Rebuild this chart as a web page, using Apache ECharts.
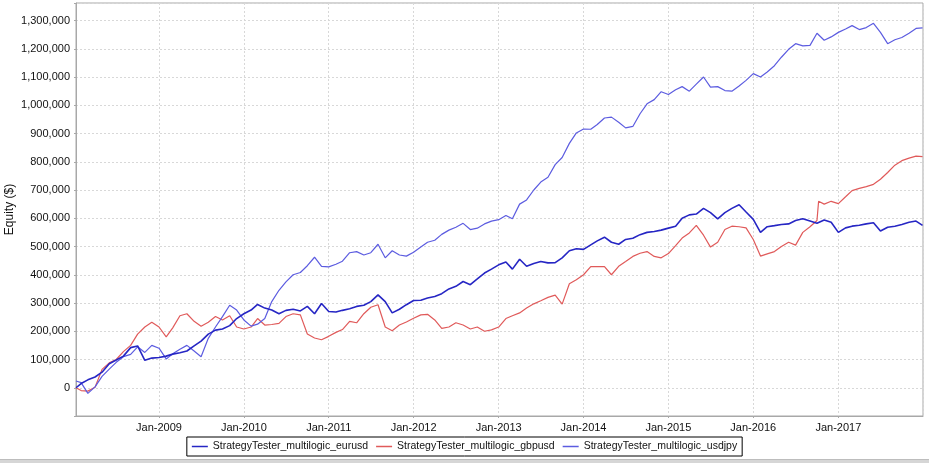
<!DOCTYPE html>
<html>
<head>
<meta charset="utf-8">
<script src="https://cdn.jsdelivr.net/npm/echarts@6/dist/echarts.min.js"></script>
<style>
html,body{margin:0;padding:0;background:#fff;}
#chart{width:929px;height:463px;}
</style>
</head>
<body>
<div id="chart"></div>
<script>
// ---- data ----
const dates = [
'2008-01-10','2008-02-01','2008-03-01','2008-04-01','2008-05-01','2008-06-01','2008-07-01','2008-08-01','2008-09-01','2008-10-01','2008-11-01','2008-12-01',
'2009-01-01','2009-02-01','2009-03-01','2009-04-01','2009-05-01','2009-06-01','2009-07-01','2009-08-01','2009-09-01','2009-10-01','2009-11-01','2009-12-01',
'2010-01-01','2010-02-01','2010-03-01','2010-04-01','2010-05-01','2010-06-01','2010-07-01','2010-08-01','2010-09-01','2010-10-01','2010-11-01','2010-12-01',
'2011-01-01','2011-02-01','2011-03-01','2011-04-01','2011-05-01','2011-06-01','2011-07-01','2011-08-01','2011-09-01','2011-10-01','2011-11-01','2011-12-01',
'2012-01-01','2012-02-01','2012-03-01','2012-04-01','2012-05-01','2012-06-01','2012-07-01','2012-08-01','2012-09-01','2012-10-01','2012-11-01','2012-12-01',
'2013-01-01','2013-02-01','2013-03-01','2013-04-01','2013-05-01','2013-06-01','2013-07-01','2013-08-01','2013-09-01','2013-10-01','2013-11-01','2013-12-01',
'2014-01-01','2014-02-01','2014-03-01','2014-04-01','2014-05-01','2014-06-01','2014-07-01','2014-08-01','2014-09-01','2014-10-01','2014-11-01','2014-12-01',
'2015-01-01','2015-02-01','2015-03-01','2015-04-01','2015-05-01','2015-06-01','2015-07-01','2015-08-01','2015-09-01','2015-10-01','2015-11-01','2015-12-01',
'2016-01-01','2016-02-01','2016-03-01','2016-04-01','2016-05-01','2016-06-01','2016-07-01','2016-08-01','2016-09-01','2016-10-01','2016-10-08','2016-11-01','2016-12-01',
'2017-01-01','2017-02-01','2017-03-01','2017-04-01','2017-05-01','2017-06-01','2017-07-01','2017-08-01','2017-09-01','2017-10-01','2017-11-01','2017-12-01','2017-12-29'
];

const eurusd = [
0,15000,28000,38000,55000,85000,98000,112000,142000,148000,97000,105000,
107000,112000,119000,124000,130000,148000,165000,190000,204000,208000,220000,245000,
262000,275000,295000,282000,275000,262000,274000,278000,272000,288000,262000,298000,
270000,268000,274000,280000,288000,292000,305000,329000,305000,265000,278000,294000,
309000,310000,318000,323000,333000,350000,359000,376000,365000,385000,406000,420000,
435000,445000,420000,455000,430000,440000,447000,442000,443000,460000,485000,492000,
490000,506000,520000,533000,515000,508000,525000,529000,542000,550000,553000,558000,
565000,572000,600000,612000,615000,635000,620000,598000,620000,635000,648000,622000,
596000,550000,570000,574000,578000,580000,592000,598000,590000,582000,584000,594000,586000,
550000,566000,572000,575000,580000,584000,555000,568000,572000,578000,586000,590000,575000
];

const gbpusd = [
0,-10000,-12000,2000,65000,88000,100000,128000,150000,190000,215000,232000,
215000,180000,212000,255000,262000,235000,218000,232000,252000,240000,255000,215000,
208000,215000,245000,222000,224000,228000,252000,262000,258000,190000,176000,170000,
182000,196000,206000,235000,230000,262000,285000,294000,215000,202000,222000,233000,
246000,258000,260000,240000,210000,215000,230000,222000,208000,215000,200000,205000,
215000,245000,255000,265000,282000,297000,308000,320000,328000,296000,368000,382000,
400000,429000,429000,429000,400000,430000,447000,465000,476000,482000,465000,460000,
475000,503000,530000,548000,575000,540000,498000,515000,560000,572000,570000,566000,
525000,466000,474000,482000,500000,515000,505000,550000,570000,592000,660000,650000,660000,
652000,676000,698000,706000,712000,720000,738000,762000,788000,804000,813000,820000,818000
];

const usdjpy = [
24000,18000,-20000,3000,40000,66000,90000,110000,118000,145000,125000,150000,
140000,102000,120000,136000,150000,130000,110000,175000,215000,252000,292000,275000,
240000,218000,225000,245000,305000,345000,375000,400000,408000,432000,462000,430000,
428000,437000,448000,478000,482000,470000,478000,508000,460000,485000,470000,466000,
480000,498000,515000,522000,543000,558000,568000,582000,560000,565000,580000,590000,
595000,610000,598000,650000,665000,700000,728000,745000,790000,815000,865000,902000,
916000,915000,932000,955000,958000,940000,920000,925000,970000,1005000,1020000,1048000,
1038000,1055000,1066000,1050000,1075000,1100000,1064000,1066000,1052000,1050000,1068000,1088000,
1112000,1100000,1118000,1140000,1170000,1198000,1218000,1210000,1212000,1255000,1250000,1230000,1242000,
1258000,1270000,1282000,1268000,1275000,1290000,1258000,1218000,1232000,1240000,1255000,1272000,1274000
];

const seriesNames = ['StrategyTester_multilogic_eurusd','StrategyTester_multilogic_gbpusd','StrategyTester_multilogic_usdjpy'];
const yTickLabels = {min:-100000, max:1362000, step:100000, lastLabel:1300000};

// ---- chart ----
const FONT = 'Liberation Sans';
const chart = echarts.init(document.getElementById('chart'), null, {renderer:'canvas'});
function pairs(vals){ return dates.map((d,i)=>[d, vals[i]]); }
const colors = ['#2626c4','#e05a5a','#5c5ce0'];
const widths = [1.6,1.2,1.2];

chart.setOption({
  animation:false,
  backgroundColor:'#ffffff',
  grid:{left:76,right:6,top:3,bottom:47,containLabel:false,outerBoundsMode:'none',
        show:true,borderColor:'#a8a8a8',borderWidth:1,backgroundColor:'#ffffff'},
  legend:{
    data:seriesNames,
    bottom:7,left:'center',
    icon:'rect',itemWidth:16,itemHeight:1.5,itemGap:8,itemStyle:{borderWidth:0},
    padding:[4,5],
    borderColor:'#000',borderWidth:1,backgroundColor:'#fff',
    textStyle:{fontFamily:FONT,fontSize:10.5,color:'#111'}
  },
  xAxis:{
    type:'time',
    min:'2008-01-10',max:'2017-12-31',
    minInterval:365*24*3600*1000,maxInterval:366*24*3600*1000,
    axisLine:{onZero:false,lineStyle:{color:'#a8a8a8'}},
    axisTick:{show:true,length:2,lineStyle:{color:'#a8a8a8'}},
    axisLabel:{fontFamily:FONT,fontSize:11,color:'#111',margin:6,formatter:'{MMM}-{yyyy}'},
    splitLine:{show:true,lineStyle:{color:'#d8d8d8',type:[2,2],width:1}}
  },
  yAxis:{
    type:'value',
    min:yTickLabels.min,max:yTickLabels.max,interval:yTickLabels.step,
    name:'Equity ($)',nameLocation:'middle',nameGap:60,nameMoveOverlap:false,
    nameTextStyle:{fontFamily:FONT,fontSize:12,color:'#111'},
    axisLine:{show:true,onZero:false,lineStyle:{color:'#a8a8a8'}},
    axisTick:{show:true,length:2,lineStyle:{color:'#a8a8a8'}},
    axisLabel:{fontFamily:FONT,fontSize:11,color:'#111',margin:6,
      formatter:function(v){ if(v<0||v>yTickLabels.lastLabel) return ''; return v.toLocaleString('en-US'); }},
    splitLine:{show:true,lineStyle:{color:'#d8d8d8',type:[2,2],width:1}}
  },
  series:[eurusd,gbpusd,usdjpy].map((vals,i)=>({
    name:seriesNames[i],type:'line',data:pairs(vals),
    showSymbol:false,symbol:'none',
    lineStyle:{color:colors[i],width:widths[i]},
    itemStyle:{color:colors[i]},
    z:i===0?3:2
  })),
  graphic:[
    {type:'rect',left:0,top:459,shape:{width:929,height:4},style:{fill:'#d6d6d6'},silent:true},
    {type:'rect',left:0,top:459,shape:{width:929,height:1},style:{fill:'#bdbdbd'},silent:true}
  ]
});
</script>
</body>
</html>
